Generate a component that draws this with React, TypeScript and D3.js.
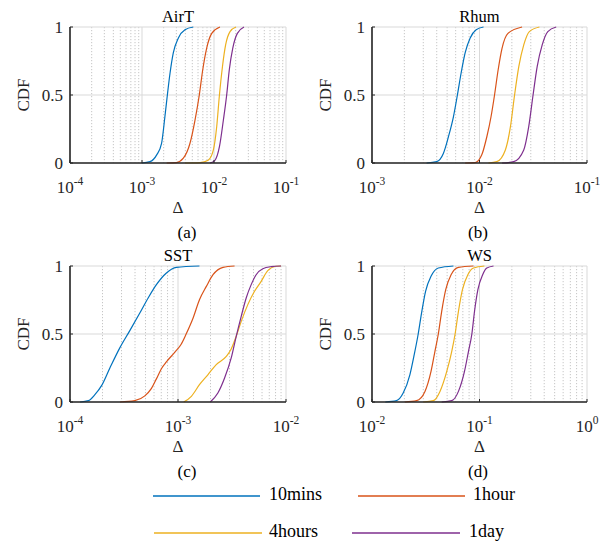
import React from "react";
import * as d3 from "d3";

type Pt = [number, number];

const seriesNames = ["10mins", "1hour", "4hours", "1day"];
const seriesColors = ["#0072BD", "#D95319", "#EDB120", "#7E2F8E"];
const panelTitles = ["AirT", "Rhum", "SST", "WS"];
const panelLetters = ["(a)", "(b)", "(c)", "(d)"];
const panelDomains: [number, number][] = [
  [1e-4, 1e-1],
  [1e-3, 1e-1],
  [1e-4, 1e-2],
  [1e-2, 1e0],
];
const yTicks = [0, 0.5, 1];
const yTickLabels = ["0", "0.5", "1"];

// Panel (a) AirT
const airT10m: Pt[] = [[0.99e-3,0],[1.29e-3,0.01],[1.6e-3,0.06],[1.87e-3,0.145],[2.08e-3,0.34],[2.25e-3,0.5],[2.45e-3,0.66],[2.72e-3,0.81],[3.2e-3,0.92],[3.95e-3,0.98],[5.16e-3,1]];
const airT1h: Pt[] = [[2.2e-3,0],[3.0e-3,0.003],[3.75e-3,0.035],[4.64e-3,0.145],[5.45e-3,0.316],[6.25e-3,0.5],[6.97e-3,0.684],[7.9e-3,0.843],[9.3e-3,0.953],[1.21e-2,1]];
const airT4h: Pt[] = [[3.95e-3,0],[6.4e-3,0.003],[8.3e-3,0.02],[9.8e-3,0.096],[1.09e-2,0.267],[1.19e-2,0.5],[1.31e-2,0.708],[1.45e-2,0.868],[1.67e-2,0.966],[2.02e-2,1]];
const airT1d: Pt[] = [[8.8e-3,0],[1.03e-2,0.02],[1.19e-2,0.12],[1.35e-2,0.316],[1.5e-2,0.5],[1.63e-2,0.684],[1.82e-2,0.843],[2.11e-2,0.953],[2.61e-2,1]];

// Panel (b) Rhum
const rhum10m: Pt[] = [[3.22e-3,0],[4.0e-3,0.01],[4.61e-3,0.07],[5.14e-3,0.193],[5.72e-3,0.34],[6.23e-3,0.5],[6.74e-3,0.66],[7.35e-3,0.81],[8.19e-3,0.92],[9.31e-3,0.98],[1.09e-2,1]];
const rhum1h: Pt[] = [[7.35e-3,0],[9.12e-3,0.003],[1.05e-2,0.06],[1.17e-2,0.193],[1.28e-2,0.34],[1.38e-2,0.5],[1.49e-2,0.684],[1.62e-2,0.843],[1.84e-2,0.953],[2.49e-2,1]];
const rhum4h: Pt[] = [[1.21e-2,0],[1.45e-2,0.01],[1.74e-2,0.096],[1.94e-2,0.267],[2.12e-2,0.5],[2.32e-2,0.708],[2.58e-2,0.868],[2.91e-2,0.966],[3.61e-2,1]];
const rhum1d: Pt[] = [[1.62e-2,0],[2.08e-2,0.01],[2.58e-2,0.096],[2.87e-2,0.267],[3.15e-2,0.5],[3.44e-2,0.708],[3.83e-2,0.868],[4.32e-2,0.966],[5.17e-2,1]];

// Panel (c) SST
const sst10m: Pt[] = [[1.24e-4,0],[1.48e-4,0.01],[1.7e-4,0.054],[1.96e-4,0.12],[2.34e-4,0.25],[2.9e-4,0.4],[3.58e-4,0.525],[4.43e-4,0.654],[5.29e-4,0.765],[6.31e-4,0.863],[7.81e-4,0.949],[9.66e-4,0.99],[1.58e-3,1]];
const sst1h: Pt[] = [[2.9e-4,0],[3.98e-4,0.01],[4.93e-4,0.045],[5.68e-4,0.1],[6.31e-4,0.17],[7.02e-4,0.245],[7.81e-4,0.295],[9.32e-4,0.365],[1.07e-3,0.425],[1.19e-3,0.5],[1.38e-3,0.618],[1.58e-3,0.752],[1.83e-3,0.85],[2.11e-3,0.936],[2.61e-3,0.99],[3.34e-3,1]];
const sst4h: Pt[] = [[1.13e-3,0],[1.33e-3,0.042],[1.58e-3,0.127],[1.89e-3,0.2],[2.26e-3,0.275],[2.8e-3,0.336],[3.11e-3,0.39],[3.46e-3,0.483],[3.85e-3,0.593],[4.43e-3,0.716],[5.11e-3,0.814],[5.89e-3,0.887],[6.78e-3,0.966],[8.09e-3,0.998],[9.0e-3,1]];
const sst1d: Pt[] = [[1.99e-3,0],[2.34e-3,0.066],[2.7e-3,0.176],[3.11e-3,0.324],[3.46e-3,0.483],[3.85e-3,0.63],[4.28e-3,0.765],[4.76e-3,0.863],[5.29e-3,0.936],[6.1e-3,0.98],[7.28e-3,0.995],[9.0e-3,1]];

// Panel (d) WS
const ws10m: Pt[] = [[1.33e-2,0],[1.69e-2,0.01],[1.95e-2,0.066],[2.25e-2,0.2],[2.47e-2,0.348],[2.69e-2,0.5],[2.89e-2,0.654],[3.15e-2,0.814],[3.54e-2,0.924],[4.14e-2,0.985],[5.72e-2,1]];
const ws1h: Pt[] = [[2.02e-2,0],[2.6e-2,0.01],[3.11e-2,0.078],[3.54e-2,0.225],[3.85e-2,0.373],[4.14e-2,0.5],[4.45e-2,0.667],[4.85e-2,0.826],[5.44e-2,0.936],[6.37e-2,0.99],[8.8e-2,1]];
const ws4h: Pt[] = [[3.0e-2,0],[3.72e-2,0.01],[4.29e-2,0.078],[4.96e-2,0.225],[5.52e-2,0.373],[5.93e-2,0.5],[6.37e-2,0.667],[6.94e-2,0.826],[7.79e-2,0.936],[8.8e-2,0.985],[1.11e-1,1]];
const ws1d: Pt[] = [[4.45e-2,0],[5.52e-2,0.01],[6.37e-2,0.078],[7.25e-2,0.225],[7.9e-2,0.373],[8.49e-2,0.5],[8.99e-2,0.667],[9.66e-2,0.826],[1.07e-1,0.936],[1.17e-1,0.985],[1.35e-1,1]];

const panelSeries: Pt[][][] = [
  [airT10m, airT1h, airT4h, airT1d],
  [rhum10m, rhum1h, rhum4h, rhum1d],
  [sst10m, sst1h, sst4h, sst1d],
  [ws10m, ws1h, ws4h, ws1d],
];

const FONT = "Liberation Serif";
const W = 613;
const H = 541;

const layout = [
  { left: 70, right: 286, top: 27, bottom: 163, letterX: 187 },
  { left: 372, right: 587, top: 27, bottom: 163, letterX: 478 },
  { left: 70, right: 286, top: 266, bottom: 402, letterX: 187 },
  { left: 372, right: 587, top: 266, bottom: 402, letterX: 478 },
];

const txt = (size: number, color = "#262626"): React.CSSProperties => ({
  fontFamily: FONT,
  fontSize: size + "px",
  fill: color,
});

function Panel({ i }: { i: number }) {
  const L = layout[i];
  const [d0, d1] = panelDomains[i];
  const x = d3.scaleLog().domain([d0, d1]).range([L.left, L.right]);
  const y = d3.scaleLinear().domain([0, 1]).range([L.bottom, L.top]);
  const e0 = Math.round(Math.log10(d0));
  const e1 = Math.round(Math.log10(d1));
  const majors: number[] = [];
  const minors: number[] = [];
  for (let e = e0; e <= e1; e++) {
    majors.push(Math.pow(10, e));
    if (e < e1) for (let m = 2; m <= 9; m++) minors.push(m * Math.pow(10, e));
  }
  const line = d3
    .line<Pt>()
    .x((d) => x(d[0]))
    .y((d) => y(d[1]))
    .curve(d3.curveMonotoneX);
  const cx = (L.left + L.right) / 2;
  return (
    <g>
      {minors.map((v, k) => (
        <line key={"mi" + k} x1={x(v)} x2={x(v)} y1={L.top} y2={L.bottom} stroke="#b8b8b8" strokeWidth={0.8} strokeDasharray="1.2,1.8" />
      ))}
      {majors.map((v, k) => (
        <line key={"ma" + k} x1={x(v)} x2={x(v)} y1={L.top} y2={L.bottom} stroke="#d9d9d9" strokeWidth={1} />
      ))}
      {yTicks.map((v, k) => (
        <line key={"yg" + k} x1={L.left} x2={L.right} y1={y(v)} y2={y(v)} stroke="#d9d9d9" strokeWidth={1} />
      ))}
      {panelSeries[i].map((s, k) => (
        <path key={"s" + k} d={line(s) || ""} fill="none" stroke={seriesColors[k]} strokeWidth={1.2} />
      ))}
      <line x1={L.left} x2={L.right} y1={L.bottom} y2={L.bottom} stroke="#262626" strokeWidth={1.6} />
      <line x1={L.left} x2={L.left} y1={L.top} y2={L.bottom} stroke="#262626" strokeWidth={1.6} />
      {yTicks.map((v, k) => (
        <line key={"yt" + k} x1={L.left} x2={L.left + 3} y1={y(v)} y2={y(v)} stroke="#262626" strokeWidth={1} />
      ))}
      {majors.map((v, k) => (
        <line key={"xt" + k} x1={x(v)} x2={x(v)} y1={L.bottom} y2={L.bottom - 3} stroke="#262626" strokeWidth={1} />
      ))}
      {yTicks.map((v, k) => (
        <text key={"yl" + k} x={L.left - 7} y={y(v) + 5.5} textAnchor="end" style={txt(17)}>
          {yTickLabels[k]}
        </text>
      ))}
      {majors.map((v, k) => {
        const e = Math.round(Math.log10(v));
        const sup = e < 0 ? "-" + Math.abs(e) : String(e);
        return (
          <text key={"xl" + k} x={x(v)} y={L.bottom + 30} textAnchor="middle" style={txt(17)}>
            10
            <tspan style={{ fontSize: "11.5px" }} dy={-8}>{sup}</tspan>
          </text>
        );
      })}
      <text x={cx} y={L.top - 5} textAnchor="middle" style={txt(16.5, "#000")}>
        {panelTitles[i]}
      </text>
      <text x={cx} y={L.bottom + 50} textAnchor="middle" style={txt(17)}>
        Δ
      </text>
      <text
        transform={`translate(${L.left - 41},${(L.top + L.bottom) / 2}) rotate(-90)`}
        textAnchor="middle"
        style={txt(17)}
      >
        CDF
      </text>
      <text x={L.letterX} y={L.bottom + 75} textAnchor="middle" style={txt(17, "#000")}>
        {panelLetters[i]}
      </text>
    </g>
  );
}

const legendPos = [
  { x1: 153, x2: 260, y: 496, tx: 269 },
  { x1: 358, x2: 465, y: 496, tx: 473 },
  { x1: 154, x2: 262, y: 533, tx: 269 },
  { x1: 352, x2: 460, y: 533, tx: 469 },
];

export default function App() {
  return (
    <svg width={W} height={H} style={{ position: "absolute", left: 0, top: 0, background: "#fff" }}>
      <rect x={0} y={0} width={W} height={H} fill="#fff" />
      {[0, 1, 2, 3].map((i) => (
        <Panel key={i} i={i} />
      ))}
      {seriesNames.map((n, k) => {
        const p = legendPos[k];
        return (
          <g key={"lg" + k}>
            <line x1={p.x1} x2={p.x2} y1={p.y} y2={p.y} stroke={seriesColors[k]} strokeWidth={1.5} />
            <text x={p.tx} y={p.y + 4} style={txt(18, "#000")}>
              {n}
            </text>
          </g>
        );
      })}
    </svg>
  );
}
